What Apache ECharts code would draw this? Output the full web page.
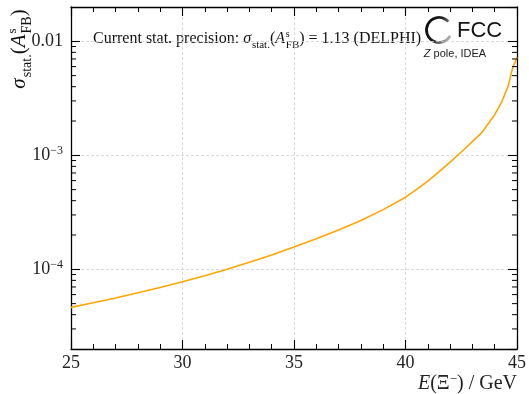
<!DOCTYPE html>
<html>
<head>
<meta charset="utf-8">
<script src="https://cdn.jsdelivr.net/npm/echarts@6/dist/echarts.min.js"></script>
<style>
  html, body { margin: 0; padding: 0; background: #fff; }
  #chart { width: 529px; height: 394px; }
</style>
</head>
<body>
<div id="chart"></div>
<script>
// Xi- energy (GeV) and expected statistical precision on A_FB^s
const energyGeV = [25, 26, 27, 28, 29, 30, 31, 32, 33, 34, 35, 36, 37, 38, 39, 40,
                   40.5, 41, 41.5, 42, 42.5, 43, 43.4, 44, 44.3, 44.6, 44.8, 45];
const sigmaStat = [4.636e-5, 5.088e-5, 5.613e-5, 6.222e-5, 6.933e-5, 7.766e-5, 8.768e-5, 1.0e-4,
                   1.152e-4, 1.338e-4, 1.570e-4, 1.850e-4, 2.211e-4, 2.685e-4, 3.340e-4, 4.292e-4,
                   5.026e-4, 5.933e-4, 7.163e-4, 8.714e-4, 1.069e-3, 1.320e-3, 1.564e-3, 2.270e-3,
                   2.893e-3, 4.023e-3, 5.790e-3, 7.234e-3];

const xRange = [25, 45];
const xMajorStep = 5;
const yRange = [2e-5, 0.02];
const yMinorTicks = [3e-5, 4e-5, 5e-5, 6e-5, 7e-5, 8e-5, 9e-5,
                     2e-4, 3e-4, 4e-4, 5e-4, 6e-4, 7e-4, 8e-4, 9e-4,
                     2e-3, 3e-3, 4e-3, 5e-3, 6e-3, 7e-3, 8e-3, 9e-3];
const yTickLabels = { '-2': '0.01', '-3': '10{e|−3}', '-4': '10{e|−4}' };

const serif = '"Liberation Serif", "DejaVu Serif", serif';
const sans = '"Liberation Sans", Arial, sans-serif';
const ink = '#111';

const measureCtx = document.createElement('canvas').getContext('2d');
function font(size, italic) {
  return (italic ? 'italic ' : '') + size + 'px ' + serif;
}
// Lays out a run of text pieces along a common baseline (sub/superscripts via dy)
function mathText(pieces, opts) {
  const children = [];
  let x = 0, stackX = null, stackW = 0;
  for (const p of pieces) {
    const f = font(p.size, p.italic);
    measureCtx.font = f;
    const w = measureCtx.measureText(p.t).width;
    const startX = stackX !== null ? stackX : x;
    children.push({
      type: 'text', x: startX, y: (p.dy || 0) - 0.32 * p.size,
      style: { text: p.t, font: f, fill: ink, align: 'left', verticalAlign: 'middle' }
    });
    if (p.stack) { stackX = startX; stackW = w; x = startX + w; }
    else if (stackX !== null) { x = startX + Math.max(w, stackW); stackX = null; }
    else { x = startX + w + (p.gap || 0); }
  }
  if (opts.center) children.forEach(c => { c.x -= x / 2; });
  return { type: 'group', x: opts.x, y: opts.y, rotation: opts.rotation || 0, silent: true, children };
}

const sigmaAfb = (big, small) => [
  { t: 'σ', size: big, italic: true, gap: 0.05 * big },
  { t: 'stat.', size: small, dy: 0.28 * big },
  { t: '(', size: big },
  { t: 'A', size: big, italic: true, gap: 0.05 * big },
  { t: 's', size: small - 1, dy: -0.42 * big, stack: true },
  { t: 'FB', size: small, dy: 0.3 * big },
  { t: ')', size: big }
];

const chart = echarts.init(document.getElementById('chart'), null, { renderer: 'canvas' });

const frameLine = { show: true, onZero: false, lineStyle: { color: '#000', width: 1.3 } };
const majorTick = { show: true, inside: true, length: 9, lineStyle: { color: '#000', width: 1.1 } };
const minorTick = { show: true, splitNumber: 5, length: 5, lineStyle: { color: '#000', width: 1 } };
const gridLine = { show: true, lineStyle: { color: '#cfcfcf', type: [3, 2], width: 0.8 } };

chart.setOption({
  animation: false,
  grid: { left: 71, right: 10, top: 7, bottom: 45 },
  xAxis: [{
    type: 'value', min: xRange[0], max: xRange[1], interval: xMajorStep, position: 'bottom',
    axisLine: frameLine, axisTick: majorTick, minorTick: minorTick,
    splitLine: gridLine,
    axisLabel: { margin: 5, fontFamily: serif, fontSize: 18, color: '#222' },
    name: '{i|E}(Ξ{s|−}) / GeV', nameLocation: 'end', nameGap: 0,
    nameTextStyle: {
      fontFamily: serif, fontSize: 20, color: '#222', align: 'right', verticalAlign: 'top',
      padding: [24, 0, 0, 0],
      rich: {
        i: { fontFamily: serif, fontSize: 20, fontStyle: 'italic', color: '#222' },
        s: { fontFamily: serif, fontSize: 13, color: '#222', padding: [0, 0, 9, 0] }
      }
    }
  }, {
    type: 'value', min: xRange[0], max: xRange[1], interval: xMajorStep, position: 'top',
    axisLine: frameLine, axisTick: majorTick, minorTick: minorTick,
    splitLine: { show: false }, axisLabel: { show: false }
  }],
  yAxis: [{
    type: 'log', logBase: 10, min: yRange[0], max: yRange[1], position: 'left',
    axisLine: frameLine, axisTick: majorTick, splitLine: gridLine,
    axisLabel: {
      margin: 8, fontFamily: serif, fontSize: 18, color: '#222',
      showMinLabel: false, showMaxLabel: false,
      formatter: v => {
        const e = Math.log10(v), r = Math.round(e);
        return Math.abs(e - r) < 1e-6 ? (yTickLabels[r] || '') : '';
      },
      rich: { e: { fontFamily: serif, fontSize: 12, color: '#222', padding: [0, 0, 9, 0] } }
    }
  }, {
    type: 'log', logBase: 10, min: yRange[0], max: yRange[1], position: 'right',
    axisLine: frameLine, axisTick: majorTick, splitLine: { show: false }, axisLabel: { show: false }
  }],
  series: [{
    type: 'line',
    data: energyGeV.map((e, i) => [e, sigmaStat[i]]),
    symbol: 'none', smooth: false,
    lineStyle: { color: '#FFA500', width: 1.6 },
    z: 3
  }, {
    // minor ticks of the logarithmic axis, on both the left and right frame
    type: 'custom', silent: true, z: 4,
    data: yMinorTicks.map(v => [xRange[0], v]),
    renderItem: (params, api) => {
      const v = api.value(1);
      const l = api.coord([xRange[0], v]);
      const r = api.coord([xRange[1], v]);
      const st = { stroke: '#000', lineWidth: 1 };
      return { type: 'group', children: [
        { type: 'line', shape: { x1: l[0], y1: l[1], x2: l[0] + 5, y2: l[1] }, style: st },
        { type: 'line', shape: { x1: r[0] - 5, y1: r[1], x2: r[0], y2: r[1] }, style: st }
      ] };
    }
  }],
  graphic: [
    mathText(sigmaAfb(21, 14), { x: 26, y: 49, rotation: Math.PI / 2, center: true }),
    mathText([{ t: 'Current stat. precision: ', size: 16 }].concat(sigmaAfb(16, 11))
      .concat([{ t: ' = 1.13 (DELPHI)', size: 16 }]), { x: 93, y: 44 }),
    {
      type: 'arc', silent: true,
      shape: { cx: 439, cy: 30, r: 12.5, startAngle: 28 * Math.PI / 180, endAngle: 318 * Math.PI / 180, clockwise: true },
      style: {
        fill: 'none', lineWidth: 2.8,
        stroke: { type: 'linear', x: 0, y: 0, x2: 1, y2: 0.4, colorStops: [
          { offset: 0, color: '#000' }, { offset: 0.6, color: '#222' }, { offset: 1, color: '#aaa' }] }
      }
    },
    { type: 'text', silent: true, x: 457, y: 31,
      style: { text: 'FCC', font: '22px ' + sans, fill: '#111', align: 'left', verticalAlign: 'middle' } },
    { type: 'text', silent: true, x: 455, y: 54,
      style: { text: '{z|Z} pole, IDEA', font: '11px ' + sans, fill: '#222', align: 'center', verticalAlign: 'middle',
        rich: { z: { font: 'italic 11px ' + sans, fill: '#222' } } } }
  ]
});
</script>
</body>
</html>
